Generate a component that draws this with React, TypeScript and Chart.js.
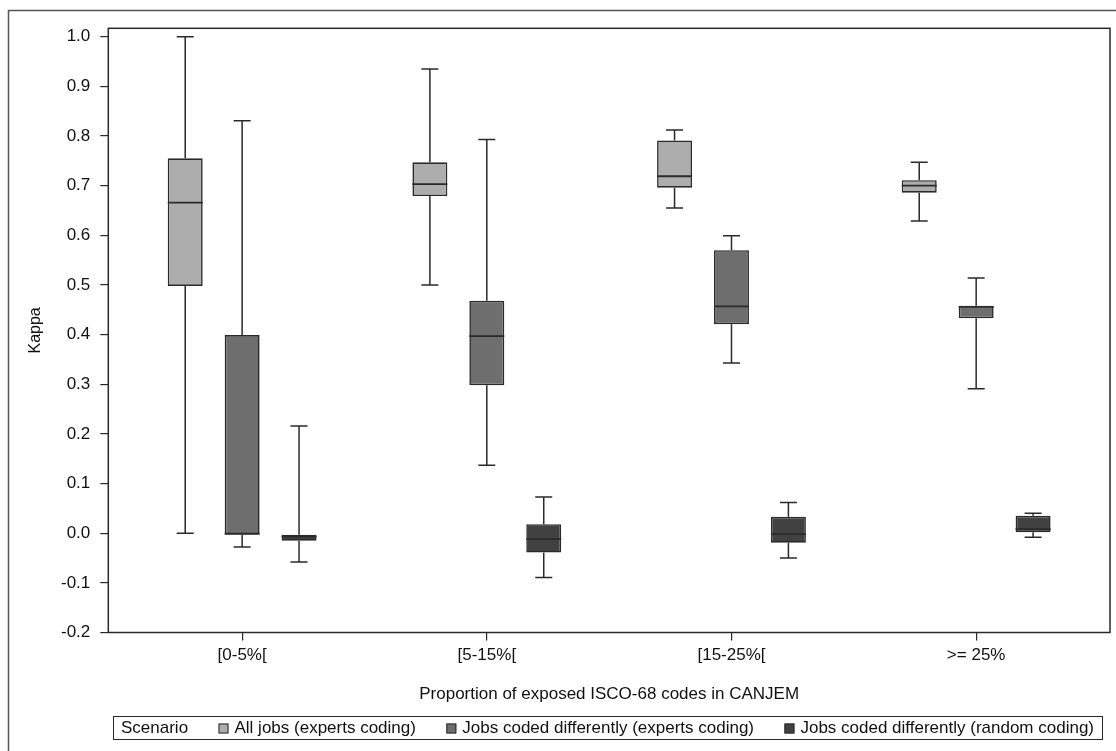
import React, { useEffect, useRef } from 'react';
import { Chart, registerables } from 'chart.js';

Chart.register(...registerables);

// ---------- data ----------
const categories = ['[0-5%[', '[5-15%[', '[15-25%[', '>= 25%'];
const seriesNames = [
  'All jobs (experts coding)',
  'Jobs coded differently (experts coding)',
  'Jobs coded differently (random coding)',
];
const seriesColors = ['#ADADAD', '#6E6E6E', '#414141'];

// All jobs (experts coding)
const allMin = [0.0, 0.5, 0.655, 0.629];
const allQ1 = [0.498, 0.679, 0.696, 0.686];
const allMed = [0.666, 0.703, 0.719, 0.7];
const allQ3 = [0.755, 0.747, 0.791, 0.711];
const allMax = [1.0, 0.935, 0.812, 0.747];

// Jobs coded differently (experts coding)
const expMin = [-0.028, 0.137, 0.343, 0.291];
const expQ1 = [-0.003, 0.298, 0.421, 0.433];
const expMed = [-0.001, 0.397, 0.457, 0.456];
const expQ3 = [0.399, 0.468, 0.57, 0.458];
const expMax = [0.831, 0.793, 0.599, 0.514];

// Jobs coded differently (random coding)
const rndMin = [-0.058, -0.089, -0.05, -0.008];
const rndQ1 = [-0.015, -0.039, -0.019, 0.002];
const rndMed = [-0.007, -0.012, -0.002, 0.008];
const rndQ3 = [-0.003, 0.018, 0.033, 0.035];
const rndMax = [0.216, 0.073, 0.062, 0.04];

const yTickValues = [-0.2, -0.1, 0.0, 0.1, 0.2, 0.3, 0.4, 0.5, 0.6, 0.7, 0.8, 0.9, 1.0];

const legendTitle = 'Scenario';
const xTitle = 'Proportion of exposed ISCO-68 codes in CANJEM';
const yTitle = 'Kappa';

// ---------- styling ----------
const FONT = "'Liberation Sans', Arial, Helvetica, sans-serif";
const TEXT = '#111111';
const LINE = '#2a2a2a';

const seriesStats = [
  { min: allMin, q1: allQ1, med: allMed, q3: allQ3, max: allMax },
  { min: expMin, q1: expQ1, med: expMed, q3: expQ3, max: expMax },
  { min: rndMin, q1: rndQ1, med: rndMed, q3: rndQ3, max: rndMax },
];

const boxPlugin = {
  id: 'boxWhiskers',
  beforeDatasetsDraw(chart: any) {
    const ctx = chart.ctx;
    const ys = chart.scales.y;
    ctx.save();
    ctx.strokeStyle = LINE;
    ctx.lineWidth = 1.5;
    chart.data.datasets.forEach((ds: any, di: number) => {
      const meta = chart.getDatasetMeta(di);
      const st = ds.stats;
      meta.data.forEach((el: any, i: number) => {
        const { x } = el.getProps(['x'], true);
        const yMin = ys.getPixelForValue(st.min[i]);
        const yMax = ys.getPixelForValue(st.max[i]);
        const yQ1 = ys.getPixelForValue(st.q1[i]);
        const yQ3 = ys.getPixelForValue(st.q3[i]);
        const cap = 8.5;
        ctx.beginPath();
        ctx.moveTo(x, yQ3);
        ctx.lineTo(x, yMax);
        ctx.moveTo(x - cap, yMax);
        ctx.lineTo(x + cap, yMax);
        ctx.moveTo(x, yQ1);
        ctx.lineTo(x, yMin);
        ctx.moveTo(x - cap, yMin);
        ctx.lineTo(x + cap, yMin);
        ctx.stroke();
      });
    });
    ctx.restore();
  },
  afterDatasetsDraw(chart: any) {
    const ctx = chart.ctx;
    const ys = chart.scales.y;
    ctx.save();
    ctx.strokeStyle = LINE;
    ctx.lineWidth = 1.8;
    chart.data.datasets.forEach((ds: any, di: number) => {
      const meta = chart.getDatasetMeta(di);
      const st = ds.stats;
      meta.data.forEach((el: any, i: number) => {
        const { x, width } = el.getProps(['x', 'width'], true);
        const yMed = ys.getPixelForValue(st.med[i]);
        ctx.beginPath();
        ctx.moveTo(x - width / 2, yMed);
        ctx.lineTo(x + width / 2, yMed);
        ctx.stroke();
      });
    });
    ctx.restore();
  },
  afterDraw(chart: any) {
    const ctx = chart.ctx;
    const a = chart.chartArea;
    ctx.save();
    // plot frame
    ctx.strokeStyle = LINE;
    ctx.lineWidth = 1.5;
    ctx.strokeRect(a.left, a.top, a.right - a.left, a.bottom - a.top);
    // outer figure border (left and top visible)
    ctx.strokeStyle = '#555555';
    ctx.lineWidth = 1.5;
    ctx.beginPath();
    ctx.moveTo(8.5, chart.height);
    ctx.lineTo(8.5, 10.5);
    ctx.lineTo(chart.width, 10.5);
    ctx.stroke();

    // legend
    const boxL = 113.5;
    const boxR = 1102.5;
    const boxT = 716.5;
    const boxB = 739.5;
    const cy = (boxT + boxB) / 2 + 0.5;
    ctx.strokeStyle = LINE;
    ctx.lineWidth = 1;
    ctx.strokeRect(boxL, boxT, boxR - boxL, boxB - boxT);
    ctx.font = `17px ${FONT}`;
    ctx.fillStyle = TEXT;
    ctx.textBaseline = 'middle';
    ctx.textAlign = 'left';
    const startX = 121;
    const endX = 1094;
    const sq = 10;
    const sqGap = 6;
    const titleW = ctx.measureText(legendTitle).width;
    const names = chart.data.datasets.map((d: any) => d.label);
    const widths = names.map((n: string) => ctx.measureText(n).width);
    const natural = titleW + widths.reduce((s: number, w: number) => s + w + sq + sqGap, 0);
    const gap = (endX - startX - natural) / names.length;
    let x = startX;
    ctx.fillText(legendTitle, x, cy);
    x += titleW + gap;
    chart.data.datasets.forEach((d: any, i: number) => {
      ctx.fillStyle = d.backgroundColor;
      ctx.fillRect(x, cy - sq / 2, sq, sq);
      ctx.strokeStyle = LINE;
      ctx.lineWidth = 1;
      ctx.strokeRect(x + 0.5, cy - sq / 2 + 0.5, sq - 1, sq - 1);
      x += sq + sqGap;
      ctx.fillStyle = TEXT;
      ctx.fillText(names[i], x, cy);
      x += widths[i] + gap;
    });
    ctx.restore();
  },
};

export default function App() {
  const ref = useRef<HTMLCanvasElement | null>(null);

  useEffect(() => {
    if (!ref.current) return;
    const datasets = seriesStats.map((st, si) => ({
      label: seriesNames[si],
      data: categories.map((_, i) => ({ x: i, y: [st.q1[i], st.q3[i]] })),
      stats: st,
      backgroundColor: seriesColors[si],
      borderColor: LINE,
      borderWidth: 1.6,
      borderSkipped: false,
      categoryPercentage: 0.698,
      barPercentage: 0.614,
    }));

    const chart = new Chart(ref.current, {
      type: 'bar',
      data: { datasets } as any,
      plugins: [boxPlugin],
      options: {
        animation: false,
        responsive: true,
        maintainAspectRatio: false,
        events: [],
        layout: { padding: { left: 0, top: 28.3, right: 6, bottom: 0 } },
        plugins: {
          legend: { display: false },
          tooltip: { enabled: false },
        },
        scales: {
          x: {
            type: 'linear',
            offset: false,
            min: -0.547,
            max: 3.547,
            afterBuildTicks: (s: any) => {
              s.ticks = categories.map((_, i) => ({ value: i }));
            },
            afterFit: (s: any) => {
              s.height = 118.5;
            },
            ticks: {
              callback: (v: any) => categories[Number(v)] ?? '',
              font: { family: FONT, size: 17 },
              color: TEXT,
              padding: 5,
              maxRotation: 0,
              autoSkip: false,
            },
            grid: {
              display: true,
              offset: false,
              drawOnChartArea: false,
              drawTicks: true,
              tickLength: 8,
              color: LINE,
              lineWidth: 1.2,
            },
            border: { display: false },
            title: {
              display: true,
              text: xTitle,
              font: { family: FONT, size: 17 },
              color: TEXT,
              padding: { top: 0, bottom: 46 },
            },
          },
          y: {
            type: 'linear',
            min: -0.2,
            max: 1.017,
            afterBuildTicks: (s: any) => {
              s.ticks = yTickValues.map((v) => ({ value: v }));
            },
            afterFit: (s: any) => {
              s.width = 108.3;
            },
            ticks: {
              callback: (v: any) => Number(v).toFixed(1),
              font: { family: FONT, size: 17 },
              color: TEXT,
              padding: 10,
            },
            grid: {
              display: true,
              drawOnChartArea: false,
              drawTicks: true,
              tickLength: 8,
              color: LINE,
              lineWidth: 1.2,
            },
            border: { display: false },
            title: {
              display: true,
              text: yTitle,
              font: { family: FONT, size: 16 },
              color: TEXT,
              padding: { top: 26, bottom: 0 },
            },
          },
        },
      } as any,
    });
    return () => chart.destroy();
  }, []);

  return (
    <div style={{ position: 'fixed', left: 0, top: 0, width: 1116, height: 751, background: '#ffffff' }}>
      <canvas ref={ref} />
    </div>
  );
}
